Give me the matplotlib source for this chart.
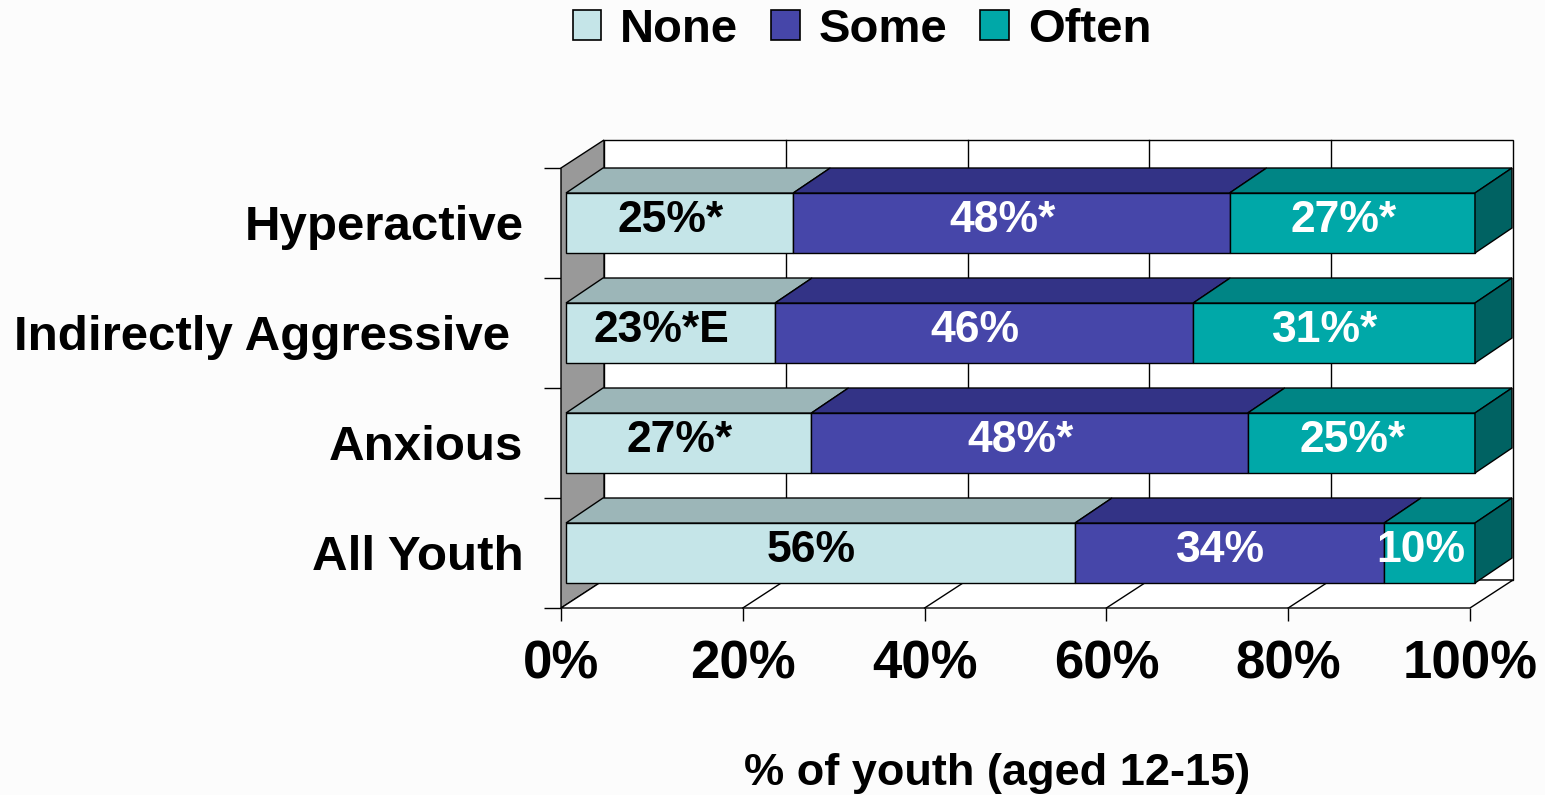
import matplotlib
matplotlib.use('Agg')
import matplotlib.pyplot as plt
from matplotlib.patches import Polygon, Patch
import numpy as np

plt.rcParams['font.family'] = ['Liberation Sans', 'DejaVu Sans']
plt.rcParams['font.weight'] = 'bold'

# data (bottom to top)
categories = ['All Youth', 'Anxious', 'Indirectly Aggressive ', 'Hyperactive']
none_vals = [56, 27, 23, 25]
some_vals = [34, 48, 46, 48]
often_vals = [10, 25, 31, 27]
none_lbl = ['56%', '27%*', '23%*E', '25%*']
some_lbl = ['34%', '48%*', '46%', '48%*']
often_lbl = ['10%', '25%*', '31%*', '27%*']
series_names = ['None', 'Some', 'Often']
xticks = [0, 20, 40, 60, 80, 100]
xtick_lbl = ['0%', '20%', '40%', '60%', '80%', '100%']

front_cols = ['#C5E5E8', '#4646A9', '#00A8A8']
top_cols = ['#9CB6B8', '#333386', '#008585']
side_col = '#006262'
text_cols = ['black', 'white', 'white']
bg = '#FCFCFC'

W, H = 1545, 795
fig = plt.figure(figsize=(W / 100, H / 100), dpi=100, facecolor=bg)
# front plane of the chart box in pixels: x 561..1470, y 168..608
ax = fig.add_axes([561 / W, (H - 608) / H, (1470 - 561) / W, (608 - 168) / H])
ax.set_xlim(0, 100)
ax.set_ylim(-0.5, 3.5)
ax.patch.set_visible(False)
for s in ax.spines.values():
    s.set_visible(False)

PX = 9.09    # pixels per percent
PY = 110.0   # pixels per category
# wall depth (43 px right, 28 px up), bar depth (37 px right, 25 px up)
DX, DY = 43 / PX, 28 / PY
BDX, BDY = 37 / PX, 25 / PY
BX0 = 5 / PX          # bar front face sits a little behind the front plane
half = 0.2727


def P(x, y, d):
    return (x + d * DX, y + d * DY)


def B(x, y, d):
    return (x + BX0 + d * BDX, y + d * BDY)


def poly(pts, fc, z, lw=1.0, ec='black'):
    ax.add_patch(Polygon(pts, closed=True, facecolor=fc, edgecolor=ec,
                         linewidth=lw, zorder=z, clip_on=False))


ylo, yhi = -0.5, 3.5
# back wall
poly([P(0, ylo, 1), P(100, ylo, 1), P(100, yhi, 1), P(0, yhi, 1)], 'white', 1)
for x in xticks[1:-1]:
    ax.plot(*zip(P(x, ylo, 1), P(x, yhi, 1)), color='black', lw=1.0, zorder=1.5,
            clip_on=False)
# left wall
poly([P(0, ylo, 0), P(0, ylo, 1), P(0, yhi, 1), P(0, yhi, 0)], '#999999', 2)
# floor
poly([P(0, ylo, 0), P(100, ylo, 0), P(100, ylo, 1), P(0, ylo, 1)], 'white', 2)
for x in xticks[1:-1]:
    ax.plot(*zip(P(x, ylo, 0), P(x, ylo, 1)), color='black', lw=1.0, zorder=2.5,
            clip_on=False)

# bars
vals = [none_vals, some_vals, often_vals]
lbls = [none_lbl, some_lbl, often_lbl]
for i in range(len(categories)):
    left = 0
    yb, yt = i - half, i + half
    for k in range(3):
        v = vals[k][i]
        right = left + v
        poly([B(left, yb, 0), B(right, yb, 0), B(right, yt, 0), B(left, yt, 0)],
             front_cols[k], 5)
        poly([B(left, yt, 0), B(right, yt, 0), B(right, yt, 1), B(left, yt, 1)],
             top_cols[k], 5)
        cx, cy = B((left + right) / 2 - 9 / PX, i + 3 / PY, 0)
        ax.text(cx, cy, lbls[k][i], ha='center', va='center', fontsize=32,
                fontweight='bold', color=text_cols[k], zorder=7)
        left = right
    poly([B(left, yb, 0), B(left, yb, 1), B(left, yt, 1), B(left, yt, 0)],
         side_col, 5)

# axes ticks
ax.set_xticks(xticks)
ax.set_xticklabels(xtick_lbl, fontsize=38, fontweight='bold')
ax.tick_params(axis='x', length=9, width=1, color='black', pad=14)
ax.set_yticks([-0.5, 0.5, 1.5, 2.5, 3.5])
ax.set_yticklabels([])
ax.tick_params(axis='y', which='major', length=12, width=1, color='black')
ax.set_yticks(range(len(categories)), minor=True)
ax.set_yticklabels(categories, minor=True, fontsize=35.5, fontweight='bold')
ax.tick_params(axis='y', which='minor', length=0, pad=27)

fig.text(997 / W, (H - 773) / H, '% of youth (aged 12-15)', ha='center',
         va='center', fontsize=32.5, fontweight='bold')

handles = [Patch(facecolor=c, edgecolor='black', linewidth=1.2) for c in front_cols]
fig.legend(handles, series_names, loc='upper center', ncol=3,
           bbox_to_anchor=(862 / W, 1.02), frameon=False,
           prop={'size': 34, 'weight': 'bold'}, handlelength=0.6,
           handleheight=0.6, handletextpad=0.4, columnspacing=0.7,
           borderpad=0.0)

fig.savefig('out.png', dpi=100, facecolor=bg)
